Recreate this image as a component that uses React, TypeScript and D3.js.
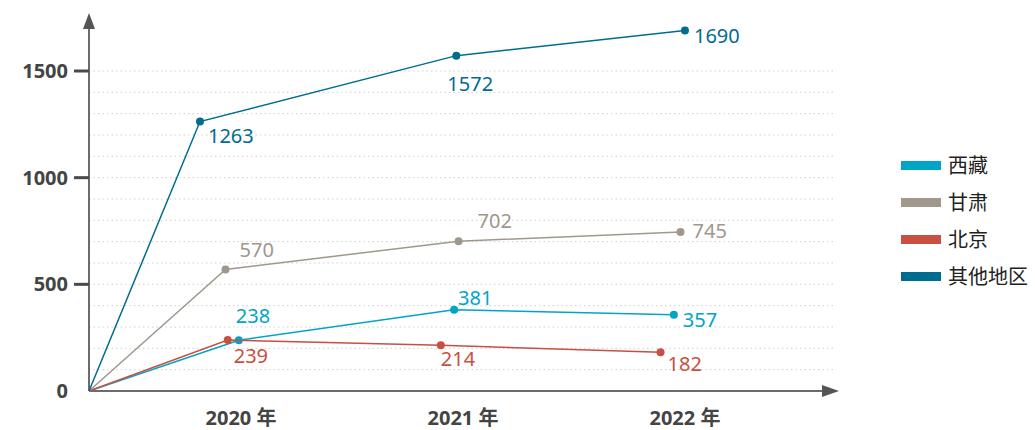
import React from 'react';
import * as d3 from 'd3';

// categories on the x axis
const yearLabels = ['2020 年', '2021 年', '2022 年'];
const years = [2020, 2021, 2022];

// series (legend order)
const seriesNames = ['西藏', '甘肃', '北京', '其他地区'];
const seriesColors = ['#00a5c6', '#9f988b', '#c94f40', '#006c90'];

const xiZangX = [2019.99, 2020.96, 2021.95];
const ganSuX = [2019.93, 2020.98, 2021.98];
const beiJingX = [2019.94, 2020.9, 2021.89];
const otherX = [2019.815, 2020.97, 2022.0];

// values
const xiZang = [238, 381, 357];
const ganSu = [570, 702, 745];
const beiJing = [239, 214, 182];
const other = [1263, 1572, 1690];

const yTicks = [0, 500, 1000, 1500];

// label offsets [dx, dy] relative to each point
const labelOffsets = [
  [[-3, -17], [4, -5], [9, 12]],
  [[14, -12], [19, -13], [12, 6]],
  [[6, 23], [0, 21], [7, 19]],
  [[8, 21], [-9, 35], [9, 13]],
];

const W = 1035;
const H = 430;
const left = 89;
const right = 837;
const bottom = 391;
const top = 71;
const pad = 0.685;

const App = () => {
  const xScale = d3.scaleLinear()
    .domain([years[0] - pad, years[years.length - 1] + pad])
    .range([left, right]);
  const yScale = d3.scaleLinear().domain([0, 1500]).range([bottom, top]);

  const xs = [xiZangX, ganSuX, beiJingX, otherX];
  const vs = [xiZang, ganSu, beiJing, other];

  const line = d3.line<[number, number]>()
    .x(d => xScale(d[0]))
    .y(d => yScale(d[1]));

  const grid = d3.range(100, 1501, 100);
  const numFont = "'Noto Sans', 'Open Sans', sans-serif";
  const cjkFont = "'Noto Sans', 'Noto Sans CJK SC', sans-serif";

  return (
    <svg width={W} height={H} style={{position: 'absolute', left: 0, top: 0}}>
      {/* grid */}
      {grid.map(g => (
        <line key={g} x1={left} x2={834} y1={yScale(g)} y2={yScale(g)}
          stroke="#cfcfcf" strokeWidth={1} strokeDasharray="1.5,3" />
      ))}

      {/* axes */}
      <line x1={left} x2={left} y1={bottom} y2={26} stroke="#6b6b6b" strokeWidth={2} />
      <path d={`M${left},13 L${left - 6},29 L${left + 6},29 Z`} fill="#555" />
      <line x1={left} x2={824} y1={bottom} y2={bottom} stroke="#6b6b6b" strokeWidth={2} />
      <path d={`M839,${bottom} L822,${bottom - 6} L822,${bottom + 6} Z`} fill="#555" />

      {yTicks.map(t => (
        <g key={t}>
          {t > 0 && <line x1={left - 15} x2={left} y1={yScale(t)} y2={yScale(t)} stroke="#4a4a4a" strokeWidth={3} />}
          <text x={68} y={yScale(t) + 7} textAnchor="end" fontFamily={numFont}
            fontWeight="bold" fontSize={20} fill="#444">{t}</text>
        </g>
      ))}

      {years.map((y, i) => (
        <text key={y} x={xScale(y)} y={425} textAnchor="middle" fontFamily={cjkFont}
          fontWeight="bold" fontSize={20} fill="#444">{yearLabels[i]}</text>
      ))}

      {/* series */}
      {seriesNames.map((name, si) => {
        const pts: [number, number][] = [[xScale.domain()[0], 0]];
        xs[si].forEach((x, i) => pts.push([x, vs[si][i]]));
        return (
          <g key={name}>
            <path d={line(pts) || ''} fill="none" stroke={seriesColors[si]} strokeWidth={1.5} />
            {xs[si].map((x, i) => (
              <g key={i}>
                <circle cx={xScale(x)} cy={yScale(vs[si][i])} r={4} fill={seriesColors[si]} />
                <text x={xScale(x) + labelOffsets[si][i][0]} y={yScale(vs[si][i]) + labelOffsets[si][i][1]}
                  fontFamily={numFont} fontSize={20} fill={seriesColors[si]}>{vs[si][i]}</text>
              </g>
            ))}
          </g>
        );
      })}

      {/* legend */}
      {seriesNames.map((name, i) => (
        <g key={name} transform={`translate(901, ${165.5 + i * 37})`}>
          <rect x={0} y={-4.5} width={40} height={9} fill={seriesColors[i]} />
          <text x={47} y={7} fontFamily="'Noto Sans CJK SC', sans-serif" fontSize={20} fill="#222">{name}</text>
        </g>
      ))}
    </svg>
  );
};

export default App;
